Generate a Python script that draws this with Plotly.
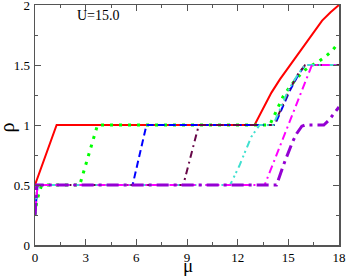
import plotly.graph_objects as go

# ---- data ----
red_mu = [0, 1.28, 13.0, 13.5, 14, 14.5, 15, 15.5, 16, 16.5, 17, 17.5, 18]
red_rho = [0.5, 1.0, 1.0, 1.14, 1.27, 1.38, 1.48, 1.58, 1.68, 1.78, 1.87, 1.94, 2.0]

green_mu = [0, 0.1, 0.25, 0.4, 2.65, 3.0, 3.35, 3.7, 13.9, 14.2, 14.7, 15.05, 15.5, 16.0, 16.3, 16.7, 17.2, 17.6, 18]
green_rho = [0.25, 0.36, 0.44, 0.5, 0.5, 0.66, 0.83, 1.0, 1.0, 1.09, 1.24, 1.31, 1.39, 1.46, 1.49, 1.52, 1.57, 1.62, 1.69]

blue_mu = [0, 0.15, 5.78, 6.6, 14.2, 15.1, 15.6, 16.0, 18]
blue_rho = [0.25, 0.5, 0.5, 1.0, 1.0, 1.29, 1.42, 1.5, 1.5]

maroon_mu = [0, 0.15, 8.78, 9.7, 14.15, 15.05, 15.6, 16.0, 18]
maroon_rho = [0.25, 0.5, 0.5, 1.0, 1.0, 1.29, 1.43, 1.5, 1.5]

cyan_mu = [0, 0.15, 11.55, 12.1, 12.8, 13.3, 14.1, 15.0, 15.6, 16.0, 18]
cyan_rho = [0.25, 0.5, 0.5, 0.66, 0.9, 1.0, 1.0, 1.29, 1.43, 1.5, 1.5]

magenta_mu = [0, 0.15, 13.6, 16.4, 18]
magenta_rho = [0.25, 0.5, 0.5, 1.5, 1.5]

violet_mu = [0, 0.1, 14.3, 14.75, 15.25, 15.5, 15.8, 16.0, 17.1, 17.4, 18]
violet_rho = [0.25, 0.5, 0.5, 0.68, 0.86, 0.93, 0.99, 1.0, 1.0, 1.04, 1.15]

x_ticks = [0, 3, 6, 9, 12, 15, 18]
x_labels = ["0", "3", "6", "9", "12", "15", "18"]
y_ticks = [0, 0.5, 1, 1.5, 2]
y_labels = ["0", "0.5", "1", "1.5", "2"]

series = [
    (red_mu, red_rho, "rgb(255,0,0)", "solid", 2),
    (green_mu, green_rho, "rgb(0,255,0)", "3px,6px", 3),
    (blue_mu, blue_rho, "rgb(0,0,255)", "7px,4px", 2),
    (maroon_mu, maroon_rho, "rgb(103,7,72)", "7px,4px,2px,4px", 2),
    (cyan_mu, cyan_rho, "rgb(64,224,208)", "7px,4px,2px,3px,2px,4px", 2),
    (magenta_mu, magenta_rho, "rgb(255,0,255)", "8px,4px,2px,4px", 2),
    (violet_mu, violet_rho, "rgb(148,0,211)", "12px,5px,3px,5px", 3),
]

fig = go.Figure()
for xs, ys, col, dash, w in series:
    fig.add_trace(go.Scatter(x=xs, y=ys, mode="lines",
                             line=dict(color=col, dash=dash, width=w),
                             showlegend=False, hoverinfo="skip"))

font_serif = "Times New Roman, Liberation Serif, DejaVu Serif, serif"
axis_common = dict(showline=True, linecolor="#555", linewidth=1.5, mirror="ticks",
                   ticks="inside", ticklen=6, tickcolor="#555", tickwidth=1,
                   showgrid=False, zeroline=False, automargin=False,
                   ticklabeloverflow="allow",
                   tickfont=dict(family=font_serif, size=13, color="black"))

fig.update_xaxes(range=[0, 18], tickvals=x_ticks, ticktext=x_labels,
                 minor=dict(ticks="inside", dtick=1.5, ticklen=3, tickcolor="#555"),
                 ticklabelstandoff=0, **axis_common)
fig.update_yaxes(range=[0, 2], tickvals=y_ticks, ticktext=y_labels,
                 minor=dict(ticks="inside", dtick=0.25, ticklen=3, tickcolor="#555"),
                 ticklabelstandoff=1, **axis_common)

fig.add_annotation(x=0.13, y=0.955, xref="paper", yref="paper", text="U=15.0",
                   showarrow=False, xanchor="left", yanchor="middle",
                   font=dict(family=font_serif, size=14, color="black"))
# axis titles
fig.add_annotation(x=0.502, y=-0.087, xref="paper", yref="paper", text="μ",
                   showarrow=False, xanchor="center", yanchor="middle",
                   font=dict(family=font_serif, size=19, color="black"))
fig.add_annotation(x=-0.092, y=0.49, xref="paper", yref="paper", text="ρ",
                   showarrow=False, xanchor="center", yanchor="middle", textangle=-90,
                   font=dict(family=font_serif, size=20, color="black"))

fig.update_layout(width=346, height=277, margin=dict(l=35, r=7, t=5, b=32),
                  paper_bgcolor="white", plot_bgcolor="white")

fig.write_html("out.html", config={"displayModeBar": False, "staticPlot": True},
               post_script="document.body.style.margin='0';document.body.style.overflow='hidden';")
